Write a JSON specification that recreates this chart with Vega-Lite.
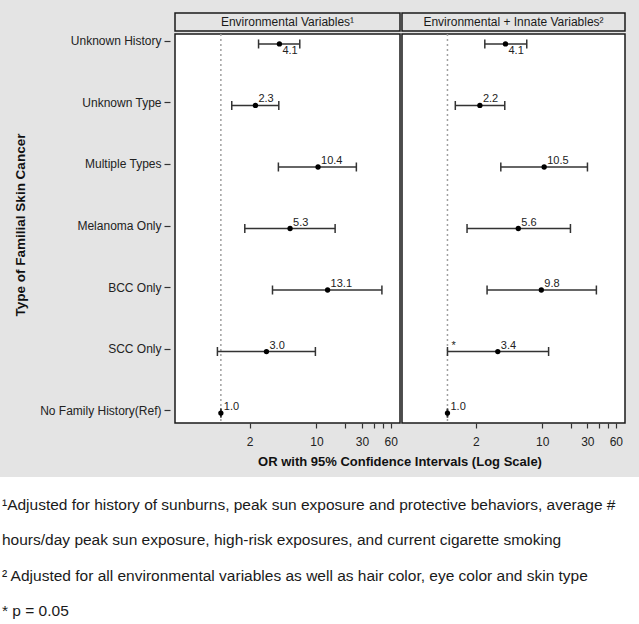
{
  "$schema": "https://vega.github.io/schema/vega-lite/v6.json",
  "background": "#e4e4e4",
  "padding": {"left": 0, "top": 12, "right": 0, "bottom": 0},
  "config": {"font": "Liberation Sans", "view": {"stroke": null}},
  "datasets": {
    "or": [
      {"panel": "E", "type": "Unknown History", "or": 4.1, "lo": 2.48, "hi": 6.7, "lab": "4.1"},
      {"panel": "E", "type": "Unknown Type", "or": 2.3, "lo": 1.3, "hi": 4.04, "lab": "2.3"},
      {"panel": "E", "type": "Multiple Types", "or": 10.4, "lo": 4.0, "hi": 26.2, "lab": "10.4"},
      {"panel": "E", "type": "Melanoma Only", "or": 5.3, "lo": 1.78, "hi": 15.7, "lab": "5.3"},
      {"panel": "E", "type": "BCC Only", "or": 13.1, "lo": 3.47, "hi": 48.5, "lab": "13.1"},
      {"panel": "E", "type": "SCC  Only", "or": 3.0, "lo": 0.92, "hi": 9.76, "lab": "3.0"},
      {"panel": "E", "type": "No Family History(Ref)", "or": 1.0, "lo": 1.0, "hi": 1.0, "lab": "1.0"},
      {"panel": "I", "type": "Unknown History", "or": 4.1, "lo": 2.48, "hi": 6.88, "lab": "4.1"},
      {"panel": "I", "type": "Unknown Type", "or": 2.2, "lo": 1.21, "hi": 4.03, "lab": "2.2"},
      {"panel": "I", "type": "Multiple Types", "or": 10.5, "lo": 3.66, "hi": 30.1, "lab": "10.5"},
      {"panel": "I", "type": "Melanoma Only", "or": 5.6, "lo": 1.61, "hi": 19.9, "lab": "5.6"},
      {"panel": "I", "type": "BCC Only", "or": 9.8, "lo": 2.62, "hi": 37.4, "lab": "9.8"},
      {"panel": "I", "type": "SCC  Only", "or": 3.4, "lo": 1.0, "hi": 11.7, "lab": "3.4", "star": "*"},
      {"panel": "I", "type": "No Family History(Ref)", "or": 1.0, "lo": 1.0, "hi": 1.0, "lab": "1.0"}
    ]
  },
  "vconcat": [
    {
      "spacing": 0,
      "hconcat": [
        {
          "width": 39,
          "height": 424,
          "data": {"values": [{"t": "Type of Familial Skin Cancer"}]},
          "mark": {"type": "text", "angle": 270, "fontSize": 13.5, "fontWeight": "bold", "color": "#111111", "align": "center", "baseline": "middle", "dx": 0, "dy": 1},
          "encoding": {"text": {"field": "t", "type": "nominal"}}
        },
        {
          "spacing": 0,
          "vconcat": [
            {
              "width": 1,
              "height": 18,
              "data": {"values": [{"t": ""}]},
              "mark": {"type": "text"},
              "encoding": {"text": {"field": "t", "type": "nominal"}}
            },
            {
              "width": 1,
              "height": 389,
              "data": {"name": "or"},
              "transform": [{"filter": "datum.panel == 'E'"}],
              "mark": {"type": "point", "opacity": 0},
              "encoding": {
                "y": {
                  "field": "type", "type": "nominal",
                  "scale": {"type": "point", "padding": 0.162, "domain": ["Unknown History", "Unknown Type", "Multiple Types", "Melanoma Only", "BCC Only", "SCC  Only", "No Family History(Ref)"]},
                  "axis": {"title": null, "domain": false, "grid": false, "ticks": true, "tickSize": 6, "tickWidth": 1.2, "tickColor": "#333333", "labelFontSize": 12, "labelColor": "#222222", "labelPadding": 3, "labelFont": "Liberation Sans"}
                }
              }
            }
          ]
        },
        {
          "spacing": 0,
          "title": {"text": "OR with 95% Confidence Intervals (Log Scale)", "orient": "bottom", "anchor": "middle", "fontSize": 13, "fontWeight": "bold", "color": "#111111", "offset": 8, "font": "Liberation Sans"},
          "hconcat": [
            {
              "spacing": 0,
              "vconcat": [
                {
                  "width": 225,
                  "height": 18,
                  "view": {"fill": "#e4e4e4", "stroke": "#1a1a1a", "strokeWidth": 1.5},
                  "data": {"values": [{"t": "Environmental Variables¹"}]},
                  "mark": {"type": "text", "fontSize": 12, "color": "#1a1a1a", "align": "center", "baseline": "middle"},
                  "encoding": {"text": {"field": "t", "type": "nominal"}}
                },
                {
                  "width": 225,
                  "height": 389,
                  "view": {"fill": "white", "stroke": "#1a1a1a", "strokeWidth": 1.5},
                  "data": {"name": "or"},
                  "transform": [{"filter": "datum.panel == 'E'"}],
                  "layer": [
                    {
                      "data": {"values": [{"ref": 1}]},
                      "mark": {"type": "rule", "color": "#a0a0a0", "strokeDash": [2, 3], "strokeWidth": 1.5},
                      "encoding": {
                        "x": {
                          "field": "ref", "type": "quantitative", "title": null,
                          "scale": {"type": "log", "domain": [0.331, 75], "nice": false},
                          "axis": {"values": [2, 10, 20, 30, 40, 50, 60], "labelExpr": "(datum.value == 2 || datum.value == 10 || datum.value == 30 || datum.value == 60) ? format(datum.value, 'd') : ''", "title": null, "domain": false, "grid": false, "tickSize": 5, "tickWidth": 1.2, "tickColor": "#333333", "labelFontSize": 12, "labelColor": "#222222", "labelPadding": 8, "labelOverlap": false, "labelFlush": false, "labelFont": "Liberation Sans"}
                        }
                      }
                    },
                    {
                      "mark": {"type": "rule", "color": "#333333", "strokeWidth": 1.5},
                      "encoding": {
                        "x": {"field": "lo", "type": "quantitative", "title": null},
                        "x2": {"field": "hi"},
                        "y": {"field": "type", "type": "nominal", "scale": {"type": "point", "padding": 0.162, "domain": ["Unknown History", "Unknown Type", "Multiple Types", "Melanoma Only", "BCC Only", "SCC  Only", "No Family History(Ref)"]}, "axis": null}
                      }
                    },
                    {
                      "mark": {"type": "tick", "orient": "vertical", "size": 9, "thickness": 1.5, "color": "#333333", "opacity": 1},
                      "encoding": {
                        "x": {"field": "lo", "type": "quantitative", "title": null},
                        "y": {"field": "type", "type": "nominal", "axis": null}
                      }
                    },
                    {
                      "mark": {"type": "tick", "orient": "vertical", "size": 9, "thickness": 1.5, "color": "#333333", "opacity": 1},
                      "encoding": {
                        "x": {"field": "hi", "type": "quantitative", "title": null},
                        "y": {"field": "type", "type": "nominal", "axis": null}
                      }
                    },
                    {
                      "mark": {"type": "point", "filled": true, "size": 28, "color": "#000000", "opacity": 1},
                      "encoding": {
                        "x": {"field": "or", "type": "quantitative", "title": null},
                        "y": {"field": "type", "type": "nominal", "axis": null}
                      }
                    },
                    {
                      "transform": [{"filter": "datum.type != 'Unknown History'"}],
                      "mark": {"type": "text", "align": "left", "baseline": "alphabetic", "dx": 3, "dy": -3, "fontSize": 11, "color": "#222222"},
                      "encoding": {
                        "x": {"field": "or", "type": "quantitative", "title": null},
                        "y": {"field": "type", "type": "nominal", "axis": null},
                        "text": {"field": "lab", "type": "nominal"}
                      }
                    },
                    {
                      "transform": [{"filter": "datum.type == 'Unknown History'"}],
                      "mark": {"type": "text", "align": "left", "baseline": "top", "dx": 3, "dy": 1, "fontSize": 11, "color": "#222222"},
                      "encoding": {
                        "x": {"field": "or", "type": "quantitative", "title": null},
                        "y": {"field": "type", "type": "nominal", "axis": null},
                        "text": {"field": "lab", "type": "nominal"}
                      }
                    }
                  ]
                }
              ]
            },
            {
              "spacing": 0,
              "vconcat": [
                {
                  "width": 223,
                  "height": 18,
                  "view": {"fill": "#e4e4e4", "stroke": "#1a1a1a", "strokeWidth": 1.5},
                  "data": {"values": [{"t": "Environmental + Innate Variables²"}]},
                  "mark": {"type": "text", "fontSize": 12, "color": "#1a1a1a", "align": "center", "baseline": "middle"},
                  "encoding": {"text": {"field": "t", "type": "nominal"}}
                },
                {
                  "width": 223,
                  "height": 389,
                  "view": {"fill": "white", "stroke": "#1a1a1a", "strokeWidth": 1.5},
                  "data": {"name": "or"},
                  "transform": [{"filter": "datum.panel == 'I'"}],
                  "layer": [
                    {
                      "data": {"values": [{"ref": 1}]},
                      "mark": {"type": "rule", "color": "#a0a0a0", "strokeDash": [2, 3], "strokeWidth": 1.5},
                      "encoding": {
                        "x": {
                          "field": "ref", "type": "quantitative", "title": null,
                          "scale": {"type": "log", "domain": [0.331, 75], "nice": false},
                          "axis": {"values": [2, 10, 20, 30, 40, 50, 60], "labelExpr": "(datum.value == 2 || datum.value == 10 || datum.value == 30 || datum.value == 60) ? format(datum.value, 'd') : ''", "title": null, "domain": false, "grid": false, "tickSize": 5, "tickWidth": 1.2, "tickColor": "#333333", "labelFontSize": 12, "labelColor": "#222222", "labelPadding": 8, "labelOverlap": false, "labelFlush": false, "labelFont": "Liberation Sans"}
                        }
                      }
                    },
                    {
                      "mark": {"type": "rule", "color": "#333333", "strokeWidth": 1.5},
                      "encoding": {
                        "x": {"field": "lo", "type": "quantitative", "title": null},
                        "x2": {"field": "hi"},
                        "y": {"field": "type", "type": "nominal", "scale": {"type": "point", "padding": 0.162, "domain": ["Unknown History", "Unknown Type", "Multiple Types", "Melanoma Only", "BCC Only", "SCC  Only", "No Family History(Ref)"]}, "axis": null}
                      }
                    },
                    {
                      "mark": {"type": "tick", "orient": "vertical", "size": 9, "thickness": 1.5, "color": "#333333", "opacity": 1},
                      "encoding": {
                        "x": {"field": "lo", "type": "quantitative", "title": null},
                        "y": {"field": "type", "type": "nominal", "axis": null}
                      }
                    },
                    {
                      "mark": {"type": "tick", "orient": "vertical", "size": 9, "thickness": 1.5, "color": "#333333", "opacity": 1},
                      "encoding": {
                        "x": {"field": "hi", "type": "quantitative", "title": null},
                        "y": {"field": "type", "type": "nominal", "axis": null}
                      }
                    },
                    {
                      "mark": {"type": "point", "filled": true, "size": 28, "color": "#000000", "opacity": 1},
                      "encoding": {
                        "x": {"field": "or", "type": "quantitative", "title": null},
                        "y": {"field": "type", "type": "nominal", "axis": null}
                      }
                    },
                    {
                      "transform": [{"filter": "datum.type != 'Unknown History'"}],
                      "mark": {"type": "text", "align": "left", "baseline": "alphabetic", "dx": 3, "dy": -3, "fontSize": 11, "color": "#222222"},
                      "encoding": {
                        "x": {"field": "or", "type": "quantitative", "title": null},
                        "y": {"field": "type", "type": "nominal", "axis": null},
                        "text": {"field": "lab", "type": "nominal"}
                      }
                    },
                    {
                      "transform": [{"filter": "datum.type == 'Unknown History'"}],
                      "mark": {"type": "text", "align": "left", "baseline": "top", "dx": 3, "dy": 1, "fontSize": 11, "color": "#222222"},
                      "encoding": {
                        "x": {"field": "or", "type": "quantitative", "title": null},
                        "y": {"field": "type", "type": "nominal", "axis": null},
                        "text": {"field": "lab", "type": "nominal"}
                      }
                    },
                    {
                      "transform": [{"filter": "datum.star == '*'"}],
                      "mark": {"type": "text", "align": "left", "baseline": "alphabetic", "dx": 4, "dy": -3, "fontSize": 11, "color": "#222222"},
                      "encoding": {
                        "x": {"field": "lo", "type": "quantitative", "title": null},
                        "y": {"field": "type", "type": "nominal", "axis": null},
                        "text": {"field": "star", "type": "nominal"}
                      }
                    }
                  ]
                }
              ]
            }
          ]
        }
      ]
    },
    {
      "width": 639,
      "height": 148,
      "view": {"fill": "white", "stroke": null},
      "data": {"values": [
        {"line": 1, "t": "¹Adjusted for history of sunburns, peak sun exposure and protective behaviors, average #"},
        {"line": 2, "t": "hours/day peak sun exposure, high-risk exposures, and current cigarette smoking"},
        {"line": 3, "t": "² Adjusted for all environmental variables as well as hair color, eye color and skin type"},
        {"line": 4, "t": "* p = 0.05"}
      ]},
      "mark": {"type": "text", "align": "left", "baseline": "middle", "fontSize": 15.5, "color": "#1a1a1a", "dx": 2},
      "encoding": {
        "x": {"datum": 0, "type": "quantitative", "scale": {"domain": [0, 1]}, "axis": null},
        "y": {"field": "line", "type": "quantitative", "scale": {"domain": [0.21, 4.4], "reverse": true, "zero": false, "nice": false}, "axis": null},
        "text": {"field": "t", "type": "nominal"}
      }
    }
  ],
  "spacing": 8
}
